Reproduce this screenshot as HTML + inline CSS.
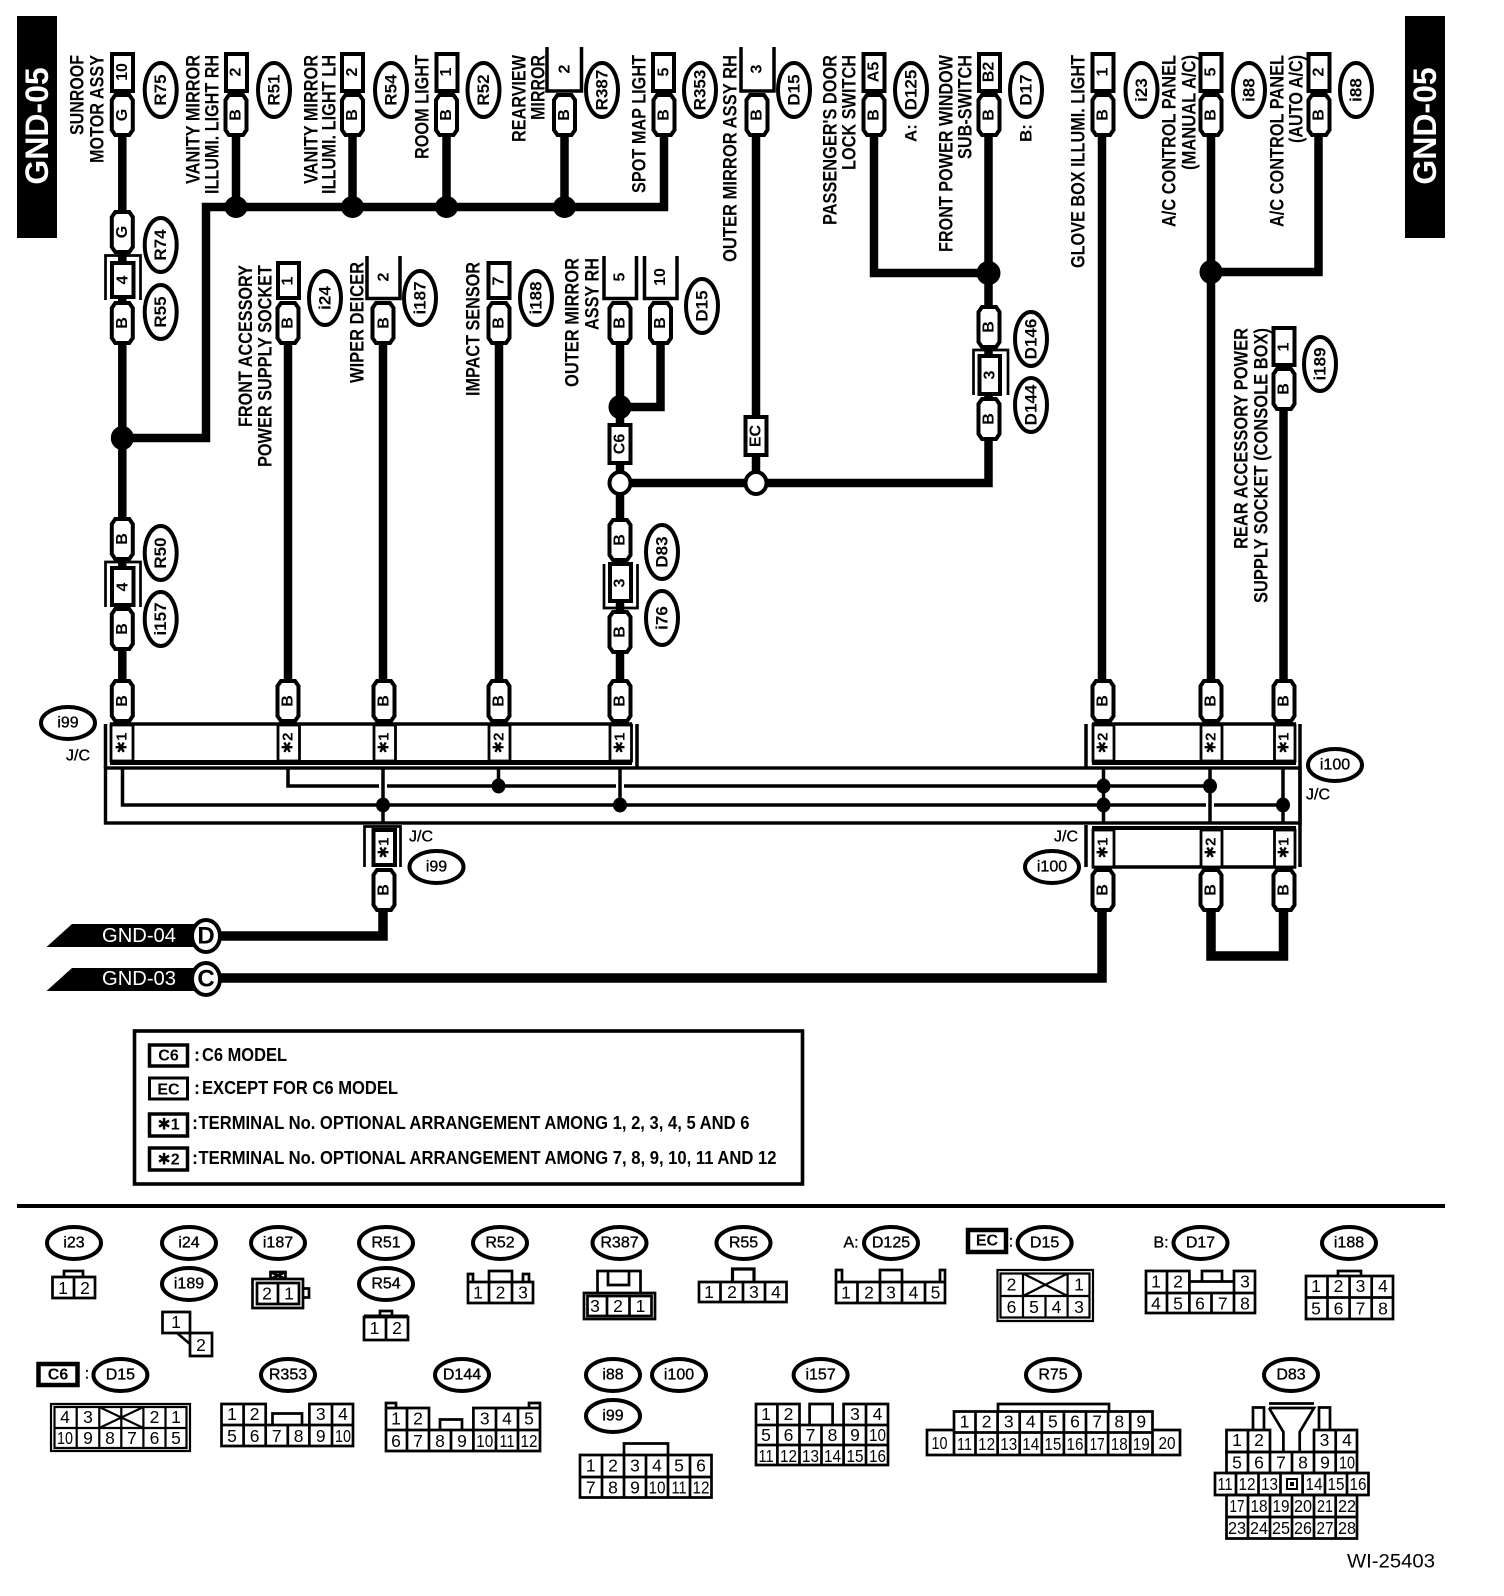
<!DOCTYPE html>
<html><head><meta charset="utf-8"><title>GND-05</title>
<style>
html,body{margin:0;padding:0;background:#fff}
svg{display:block}
text{font-family:"Liberation Sans","DejaVu Sans",sans-serif;fill:#000;dominant-baseline:central}
.w{fill:none;stroke:#000;stroke-width:8.5;stroke-linejoin:miter}
.l{fill:none;stroke:#000;stroke-width:3.5}
.m{fill:none;stroke:#000;stroke-width:2.7}
.s{fill:#fff;stroke:#000;stroke-width:4}
.c{fill:#fff;stroke:#000;stroke-width:2.8}
.j{fill:#000}
.a{font-size:17px;font-weight:700;text-anchor:end}
.b{font-size:16px;font-weight:700;text-anchor:middle}
.e{font-size:17px;font-weight:700;text-anchor:middle}
.h{font-size:16px;text-anchor:middle;stroke:#000;stroke-width:.35}
.n{font-size:17.5px;text-anchor:middle}
.k{font-size:16px;font-weight:700;text-anchor:middle}
.g{font-size:18px;font-weight:700}
.t{font-size:15px}
</style></head><body>
<svg width="1504" height="1596" viewBox="0 0 1504 1596" xmlns="http://www.w3.org/2000/svg">
<defs>
<path id="p" class="s" d="M-7,0H7L10.5,5V35L7,40H-7L-10.5,35V5Z"/>
</defs>
<rect width="1504" height="1596" fill="#fff"/>

<!-- side bars -->
<rect x="17" y="16" width="40" height="222" fill="#000"/>
<rect x="1405" y="16" width="40" height="222" fill="#000"/>
<text transform="translate(37,126) rotate(-90)" style="font-size:32px;font-weight:700;text-anchor:middle;fill:#fff">GND-05</text>
<text transform="translate(1425,126) rotate(-90)" style="font-size:32px;font-weight:700;text-anchor:middle;fill:#fff">GND-05</text>

<!-- wires -->
<path class="w" d="M122.3,130V700"/>
<path class="w" d="M122.3,438H206V207H664V130"/>
<path class="w" d="M236,130V207M352.5,130V207M446.5,130V207M564.5,130V207"/>
<path class="w" d="M756,130V483"/>
<path class="w" d="M874,130V273H988.5"/>
<path class="w" d="M988.5,130V483H620"/>
<path class="w" d="M1102,130V700"/>
<path class="w" d="M1211,130V700"/>
<path class="w" d="M1318.5,130V272H1211"/>
<path class="w" d="M1283.5,400V700"/>
<path class="w" d="M288,340V700M383,340V700M499,340V700"/>
<path class="w" d="M620,340V700"/>
<path class="w" d="M660.5,340V407H620"/>
<path class="w" style="stroke-width:9.5" d="M383,905V936H220"/>
<path class="w" style="stroke-width:9.5" d="M1102,905V978H220"/>
<path class="w" style="stroke-width:9.5" d="M1211,905V956H1283.5V905"/>

<!-- junctions -->
<ellipse class="j" cx="122.3" cy="438" rx="11.5" ry="12"/>
<ellipse class="j" cx="236" cy="207" rx="11.5" ry="11"/>
<ellipse class="j" cx="352.5" cy="207" rx="11.5" ry="11"/>
<ellipse class="j" cx="446.5" cy="207" rx="11.5" ry="11"/>
<ellipse class="j" cx="564.5" cy="207" rx="11.5" ry="11"/>
<ellipse class="j" cx="988.5" cy="273" rx="12" ry="12"/>
<ellipse class="j" cx="1211" cy="272" rx="11.5" ry="12"/>
<ellipse class="j" cx="620" cy="407" rx="11.5" ry="12"/>
<ellipse class="s" cx="620" cy="483" rx="10.5" ry="11"/>
<ellipse class="s" cx="756" cy="483" rx="10.5" ry="11"/>

<!-- top terminal boxes -->
<rect class="s" x="112" y="54" width="21" height="37"/><text class="b" transform="translate(122.3,72) rotate(-90)">10</text>
<rect class="s" x="226" y="54" width="21" height="37"/><text class="b" transform="translate(236,72) rotate(-90)">2</text>
<rect class="s" x="342" y="54" width="21" height="37"/><text class="b" transform="translate(352.5,72) rotate(-90)">2</text>
<rect class="s" x="436.5" y="54" width="21" height="37"/><text class="b" transform="translate(446.5,72) rotate(-90)">1</text>
<path class="l" d="M547,47V91H581.5V47"/><text class="b" transform="translate(565,69) rotate(-90)">2</text>
<rect class="s" x="653" y="54" width="21" height="37"/><text class="b" transform="translate(664,72) rotate(-90)">5</text>
<path class="l" d="M741,47V91H774V47"/><text class="b" transform="translate(757,69) rotate(-90)">3</text>
<rect class="s" x="863.5" y="54" width="21" height="37"/><text class="b" transform="translate(874,72) rotate(-90)">A5</text>
<rect class="s" x="979" y="54" width="21" height="37"/><text class="b" transform="translate(989,72) rotate(-90)">B2</text>
<rect class="s" x="1092.5" y="54" width="21" height="37"/><text class="b" transform="translate(1103,72) rotate(-90)">1</text>
<rect class="s" x="1200.5" y="54" width="21" height="37"/><text class="b" transform="translate(1211,72) rotate(-90)">5</text>
<rect class="s" x="1308.5" y="54" width="21" height="37"/><text class="b" transform="translate(1319,72) rotate(-90)">2</text>

<!-- top pills -->
<use href="#p" x="122.3" y="95"/><text class="b" transform="translate(122.3,115) rotate(-90)">G</text>
<use href="#p" x="236" y="95"/><text class="b" transform="translate(236,115) rotate(-90)">B</text>
<use href="#p" x="352.5" y="95"/><text class="b" transform="translate(352.5,115) rotate(-90)">B</text>
<use href="#p" x="446.5" y="95"/><text class="b" transform="translate(446.5,115) rotate(-90)">B</text>
<use href="#p" x="564.5" y="95"/><text class="b" transform="translate(564.5,115) rotate(-90)">B</text>
<use href="#p" x="664" y="95"/><text class="b" transform="translate(664,115) rotate(-90)">B</text>
<use href="#p" x="757" y="95"/><text class="b" transform="translate(757,115) rotate(-90)">B</text>
<use href="#p" x="874" y="95"/><text class="b" transform="translate(874,115) rotate(-90)">B</text>
<use href="#p" x="989" y="95"/><text class="b" transform="translate(989,115) rotate(-90)">B</text>
<use href="#p" x="1103" y="95"/><text class="b" transform="translate(1103,115) rotate(-90)">B</text>
<use href="#p" x="1211" y="95"/><text class="b" transform="translate(1211,115) rotate(-90)">B</text>
<use href="#p" x="1319" y="95"/><text class="b" transform="translate(1319,115) rotate(-90)">B</text>

<!-- top labels -->
<text class="a" transform="translate(77,55) rotate(-90) scale(1,1.12)" textLength="80" lengthAdjust="spacingAndGlyphs">SUNROOF</text>
<text class="a" transform="translate(97,55) rotate(-90) scale(1,1.12)" textLength="108" lengthAdjust="spacingAndGlyphs">MOTOR ASSY</text>
<text class="a" transform="translate(193,55) rotate(-90) scale(1,1.12)" textLength="129" lengthAdjust="spacingAndGlyphs">VANITY MIRROR</text>
<text class="a" transform="translate(212,55) rotate(-90) scale(1,1.12)" textLength="139" lengthAdjust="spacingAndGlyphs">ILLUMI. LIGHT RH</text>
<text class="a" transform="translate(311,55) rotate(-90) scale(1,1.12)" textLength="129" lengthAdjust="spacingAndGlyphs">VANITY MIRROR</text>
<text class="a" transform="translate(329,55) rotate(-90) scale(1,1.12)" textLength="139" lengthAdjust="spacingAndGlyphs">ILLUMI. LIGHT LH</text>
<text class="a" transform="translate(422,55) rotate(-90) scale(1,1.12)" textLength="104" lengthAdjust="spacingAndGlyphs">ROOM LIGHT</text>
<text class="a" transform="translate(519,55) rotate(-90) scale(1,1.12)" textLength="87" lengthAdjust="spacingAndGlyphs">REARVIEW</text>
<text class="a" transform="translate(538,55) rotate(-90) scale(1,1.12)" textLength="65" lengthAdjust="spacingAndGlyphs">MIRROR</text>
<text class="a" transform="translate(639,55) rotate(-90) scale(1,1.12)" textLength="138" lengthAdjust="spacingAndGlyphs">SPOT MAP LIGHT</text>
<text class="a" transform="translate(730,55) rotate(-90) scale(1,1.12)" textLength="207" lengthAdjust="spacingAndGlyphs">OUTER MIRROR ASSY RH</text>
<text class="a" transform="translate(830,55) rotate(-90) scale(1,1.12)" textLength="170" lengthAdjust="spacingAndGlyphs">PASSENGER'S DOOR</text>
<text class="a" transform="translate(849,55) rotate(-90) scale(1,1.12)" textLength="115" lengthAdjust="spacingAndGlyphs">LOCK SWITCH</text>
<text class="a" transform="translate(946,55) rotate(-90) scale(1,1.12)" textLength="197" lengthAdjust="spacingAndGlyphs">FRONT POWER WINDOW</text>
<text class="a" transform="translate(965,55) rotate(-90) scale(1,1.12)" textLength="104" lengthAdjust="spacingAndGlyphs">SUB-SWITCH</text>
<text class="a" transform="translate(1078,55) rotate(-90) scale(1,1.12)" textLength="213" lengthAdjust="spacingAndGlyphs">GLOVE BOX ILLUMI. LIGHT</text>
<text class="a" transform="translate(1169,55) rotate(-90) scale(1,1.12)" textLength="172" lengthAdjust="spacingAndGlyphs">A/C CONTROL PANEL</text>
<text class="a" transform="translate(1189,55) rotate(-90) scale(1,1.12)" textLength="115" lengthAdjust="spacingAndGlyphs">(MANUAL A/C)</text>
<text class="a" transform="translate(1277,55) rotate(-90) scale(1,1.12)" textLength="172" lengthAdjust="spacingAndGlyphs">A/C CONTROL PANEL</text>
<text class="a" transform="translate(1296,55) rotate(-90) scale(1,1.12)" textLength="88" lengthAdjust="spacingAndGlyphs">(AUTO A/C)</text>
<text class="a" transform="translate(911,133) rotate(-90)" style="text-anchor:middle">A:</text>
<text class="a" transform="translate(1026,133) rotate(-90)" style="text-anchor:middle">B:</text>

<!-- top ellipses -->
<ellipse class="s" cx="160.7" cy="90" rx="16" ry="27"/><text class="e" transform="translate(160.7,90) rotate(-90)">R75</text>
<ellipse class="s" cx="274" cy="90" rx="16" ry="27"/><text class="e" transform="translate(274,90) rotate(-90)">R51</text>
<ellipse class="s" cx="391" cy="90" rx="16" ry="27"/><text class="e" transform="translate(391,90) rotate(-90)">R54</text>
<ellipse class="s" cx="483.5" cy="90" rx="16" ry="27"/><text class="e" transform="translate(483.5,90) rotate(-90)">R52</text>
<ellipse class="s" cx="602" cy="90" rx="16" ry="27"/><text class="e" transform="translate(602,90) rotate(-90)">R387</text>
<ellipse class="s" cx="700" cy="90" rx="16" ry="27"/><text class="e" transform="translate(700,90) rotate(-90)">R353</text>
<ellipse class="s" cx="794" cy="90" rx="16" ry="27"/><text class="e" transform="translate(794,90) rotate(-90)">D15</text>
<ellipse class="s" cx="911" cy="90" rx="16" ry="27"/><text class="e" transform="translate(911,90) rotate(-90)">D125</text>
<ellipse class="s" cx="1026" cy="90" rx="16" ry="27"/><text class="e" transform="translate(1026,90) rotate(-90)">D17</text>
<ellipse class="s" cx="1141.5" cy="90" rx="16" ry="27"/><text class="e" transform="translate(1141.5,90) rotate(-90)">i23</text>
<ellipse class="s" cx="1249" cy="90" rx="16" ry="27"/><text class="e" transform="translate(1249,90) rotate(-90)">i88</text>
<ellipse class="s" cx="1356" cy="90" rx="16" ry="27"/><text class="e" transform="translate(1356,90) rotate(-90)">i88</text>

<!-- R74 / R55 connector -->
<use href="#p" x="122.3" y="212"/><text class="b" transform="translate(122.3,232) rotate(-90)">G</text>
<path class="m" d="M105.5,300V255.5H140.5V300"/>
<rect class="s" x="112" y="263" width="21.5" height="34"/><text class="b" transform="translate(122.8,280) rotate(-90)">4</text>
<use href="#p" x="122.3" y="303"/><text class="b" transform="translate(122.3,323) rotate(-90)">B</text>
<ellipse class="s" cx="160.7" cy="245" rx="16" ry="27"/><text class="e" transform="translate(160.7,245) rotate(-90)">R74</text>
<ellipse class="s" cx="160.7" cy="312" rx="16" ry="27"/><text class="e" transform="translate(160.7,312) rotate(-90)">R55</text>

<!-- i24 -->
<rect class="s" x="278" y="263" width="21" height="35"/><text class="b" transform="translate(288,281) rotate(-90)">1</text>
<use href="#p" x="288" y="303"/><text class="b" transform="translate(288,323) rotate(-90)">B</text>
<ellipse class="s" cx="325" cy="298" rx="16" ry="27"/><text class="e" transform="translate(325,298) rotate(-90)">i24</text>
<text class="a" transform="translate(245.5,265) rotate(-90) scale(1,1.12)" textLength="162" lengthAdjust="spacingAndGlyphs">FRONT ACCESSORY</text>
<text class="a" transform="translate(265,265) rotate(-90) scale(1,1.12)" textLength="202" lengthAdjust="spacingAndGlyphs">POWER SUPPLY SOCKET</text>

<!-- i187 -->
<path class="l" d="M367,256V298.5H400V256"/><text class="b" transform="translate(384,277) rotate(-90)">2</text>
<use href="#p" x="383" y="303"/><text class="b" transform="translate(384,323) rotate(-90)">B</text>
<ellipse class="s" cx="420" cy="298" rx="16" ry="27"/><text class="e" transform="translate(420,298) rotate(-90)">i187</text>
<text class="a" transform="translate(357,262) rotate(-90) scale(1,1.12)" textLength="121" lengthAdjust="spacingAndGlyphs">WIPER DEICER</text>

<!-- i188 -->
<rect class="s" x="488.5" y="263" width="21" height="35"/><text class="b" transform="translate(499,281) rotate(-90)">7</text>
<use href="#p" x="499" y="303"/><text class="b" transform="translate(499,323) rotate(-90)">B</text>
<ellipse class="s" cx="536" cy="298" rx="16" ry="27"/><text class="e" transform="translate(536,298) rotate(-90)">i188</text>
<text class="a" transform="translate(473,262) rotate(-90) scale(1,1.12)" textLength="134" lengthAdjust="spacingAndGlyphs">IMPACT SENSOR</text>

<!-- D15 pair -->
<path class="l" d="M604,256V298.5H636.5V256M644.5,256V298.5H677V256"/>
<text class="b" transform="translate(620,277) rotate(-90)">5</text>
<text class="b" transform="translate(660.5,277) rotate(-90)">10</text>
<use href="#p" x="620" y="303"/><text class="b" transform="translate(620,323) rotate(-90)">B</text>
<use href="#p" x="660.5" y="303"/><text class="b" transform="translate(660.5,323) rotate(-90)">B</text>
<ellipse class="s" cx="702" cy="306" rx="16" ry="27"/><text class="e" transform="translate(702,306) rotate(-90)">D15</text>
<text class="a" transform="translate(572,258) rotate(-90) scale(1,1.12)" textLength="129" lengthAdjust="spacingAndGlyphs">OUTER MIRROR</text>
<text class="a" transform="translate(592,258) rotate(-90) scale(1,1.12)" textLength="72" lengthAdjust="spacingAndGlyphs">ASSY RH</text>

<!-- C6 / EC inline -->
<rect class="s" x="609.5" y="425" width="21" height="38"/><text class="b" transform="translate(620,444) rotate(-90)">C6</text>
<rect class="s" x="745.5" y="417" width="21" height="38"/><text class="b" transform="translate(756,436) rotate(-90)">EC</text>

<!-- D146 / D144 -->
<use href="#p" x="989" y="307"/><text class="b" transform="translate(989,327) rotate(-90)">B</text>
<path class="m" d="M973.5,395V350H1008V395"/>
<rect class="s" x="979.5" y="356" width="20.5" height="38"/><text class="b" transform="translate(990,375) rotate(-90)">3</text>
<use href="#p" x="989" y="399"/><text class="b" transform="translate(989,419) rotate(-90)">B</text>
<ellipse class="s" cx="1031" cy="339" rx="16" ry="27"/><text class="e" transform="translate(1031,339) rotate(-90)">D146</text>
<ellipse class="s" cx="1031" cy="405" rx="16" ry="27"/><text class="e" transform="translate(1031,405) rotate(-90)">D144</text>

<!-- i189 -->
<rect class="s" x="1273.5" y="328" width="21" height="37"/><text class="b" transform="translate(1284,347) rotate(-90)">1</text>
<use href="#p" x="1284" y="369"/><text class="b" transform="translate(1284,389) rotate(-90)">B</text>
<ellipse class="s" cx="1320" cy="364" rx="16" ry="27"/><text class="e" transform="translate(1320,364) rotate(-90)">i189</text>
<text class="a" transform="translate(1241,328) rotate(-90) scale(1,1.12)" textLength="221" lengthAdjust="spacingAndGlyphs">REAR ACCESSORY POWER</text>
<text class="a" transform="translate(1261,328) rotate(-90) scale(1,1.12)" textLength="275" lengthAdjust="spacingAndGlyphs">SUPPLY SOCKET (CONSOLE BOX)</text>

<!-- R50 / i157 -->
<use href="#p" x="122.3" y="519"/><text class="b" transform="translate(122.3,539) rotate(-90)">B</text>
<path class="m" d="M105.5,607V562H140.5V607"/>
<rect class="s" x="112" y="568" width="21.5" height="37"/><text class="b" transform="translate(123,587) rotate(-90)">4</text>
<use href="#p" x="122.3" y="609"/><text class="b" transform="translate(122.3,629) rotate(-90)">B</text>
<ellipse class="s" cx="160.7" cy="553" rx="16" ry="27"/><text class="e" transform="translate(160.7,553) rotate(-90)">R50</text>
<ellipse class="s" cx="160.7" cy="619" rx="16" ry="27"/><text class="e" transform="translate(160.7,619) rotate(-90)">i157</text>

<!-- D83 / i76 -->
<use href="#p" x="620" y="520"/><text class="b" transform="translate(620,540) rotate(-90)">B</text>
<path class="m" d="M604,564V608H637.5V564"/>
<rect class="s" x="610" y="564" width="21" height="37"/><text class="b" transform="translate(620,583) rotate(-90)">3</text>
<use href="#p" x="620" y="612"/><text class="b" transform="translate(620,632) rotate(-90)">B</text>
<ellipse class="s" cx="662" cy="552" rx="16" ry="27"/><text class="e" transform="translate(662,552) rotate(-90)">D83</text>
<ellipse class="s" cx="662" cy="618" rx="16" ry="27"/><text class="e" transform="translate(662,618) rotate(-90)">i76</text>

<!-- J/C frame -->
<rect class="l" x="105.5" y="768" width="1194.5" height="55" style="stroke-width:3.4"/>
<path class="l" d="M105.5,724V768M637,724V768M1086,724V768M1300,724V867M1086,825V867"/>
<path class="l" d="M110,724H632M1092,724H1296"/>
<path style="fill:none;stroke:#000;stroke-width:5" d="M110,762.5H632M1092,762.5H1296"/>
<path style="fill:none;stroke:#000;stroke-width:4" d="M1092,828H1296"/>
<path class="l" d="M1092,867H1296"/>

<!-- J/C upper terminals -->
<rect class="c" x="111" y="725" width="22" height="36"/><text class="b t" transform="translate(122,743) rotate(-90)">✱1</text>
<rect class="c" x="278" y="725" width="21.5" height="36"/><text class="b t" transform="translate(288,743) rotate(-90)">✱2</text>
<rect class="c" x="374" y="725" width="21.5" height="36"/><text class="b t" transform="translate(384,743) rotate(-90)">✱1</text>
<rect class="c" x="489" y="725" width="21" height="36"/><text class="b t" transform="translate(499,743) rotate(-90)">✱2</text>
<rect class="c" x="610" y="725" width="21.5" height="36"/><text class="b t" transform="translate(620,743) rotate(-90)">✱1</text>
<rect class="c" x="1093" y="725" width="21" height="36"/><text class="b t" transform="translate(1103,743) rotate(-90)">✱2</text>
<rect class="c" x="1201" y="725" width="21" height="36"/><text class="b t" transform="translate(1211,743) rotate(-90)">✱2</text>
<rect class="c" x="1274.5" y="725" width="20.5" height="36"/><text class="b t" transform="translate(1284,743) rotate(-90)">✱1</text>

<!-- J/C lower terminals -->
<rect class="c" x="1093" y="830" width="21" height="37"/><text class="b t" transform="translate(1103,848) rotate(-90)">✱1</text>
<rect class="c" x="1201" y="830" width="21" height="37"/><text class="b t" transform="translate(1211,848) rotate(-90)">✱2</text>
<rect class="c" x="1274.5" y="830" width="20.5" height="37"/><text class="b t" transform="translate(1284,848) rotate(-90)">✱1</text>
<path class="m" d="M364.5,867V826.5H400.5V867"/>
<rect class="s" x="373.5" y="830" width="21.5" height="35"/><text class="b t" transform="translate(384,848) rotate(-90)">✱1</text>

<!-- pills at J/C -->
<use href="#p" x="122.3" y="681"/><text class="b" transform="translate(122.3,701) rotate(-90)">B</text>
<use href="#p" x="288" y="681"/><text class="b" transform="translate(288,701) rotate(-90)">B</text>
<use href="#p" x="384" y="681"/><text class="b" transform="translate(384,701) rotate(-90)">B</text>
<use href="#p" x="499" y="681"/><text class="b" transform="translate(499,701) rotate(-90)">B</text>
<use href="#p" x="620" y="681"/><text class="b" transform="translate(620,701) rotate(-90)">B</text>
<use href="#p" x="1103" y="681"/><text class="b" transform="translate(1103,701) rotate(-90)">B</text>
<use href="#p" x="1211" y="681"/><text class="b" transform="translate(1211,701) rotate(-90)">B</text>
<use href="#p" x="1284" y="681"/><text class="b" transform="translate(1284,701) rotate(-90)">B</text>
<use href="#p" x="384" y="870"/><text class="b" transform="translate(384,890) rotate(-90)">B</text>
<use href="#p" x="1103" y="870"/><text class="b" transform="translate(1103,890) rotate(-90)">B</text>
<use href="#p" x="1211" y="870"/><text class="b" transform="translate(1211,890) rotate(-90)">B</text>
<use href="#p" x="1284" y="870"/><text class="b" transform="translate(1284,890) rotate(-90)">B</text>

<!-- inner bus lines -->
<path class="l" d="M122.5,768V805H1206M1214,805H1283M288,768V786H379M387,786H616M624,786H1210"/>
<path class="l" d="M383,768V823M498.5,768V786M620,768V805M1103.5,768V823M1210,768V823M1283,768V823"/>
<ellipse class="j" cx="383" cy="805" rx="7" ry="7.5"/>
<ellipse class="j" cx="498.5" cy="786" rx="7" ry="7.5"/>
<ellipse class="j" cx="620" cy="805" rx="7" ry="7.5"/>
<ellipse class="j" cx="1103.5" cy="786" rx="7" ry="7.5"/>
<ellipse class="j" cx="1103.5" cy="805" rx="7" ry="7.5"/>
<ellipse class="j" cx="1210" cy="786" rx="7" ry="7.5"/>
<ellipse class="j" cx="1283" cy="805" rx="7" ry="7.5"/>

<!-- J/C ellipses -->
<ellipse class="s" cx="68" cy="723" rx="27" ry="16"/><text class="h" x="68" y="723">i99</text>
<text class="h" x="78" y="756">J/C</text>
<ellipse class="s" cx="436.5" cy="867" rx="27" ry="16"/><text class="h" x="436.5" y="867">i99</text>
<text class="h" x="421" y="837">J/C</text>
<ellipse class="s" cx="1335" cy="765" rx="27" ry="16"/><text class="h" x="1335" y="765">i100</text>
<text class="h" x="1318" y="795">J/C</text>
<ellipse class="s" cx="1052" cy="867" rx="27" ry="16"/><text class="h" x="1052" y="867">i100</text>
<text class="h" x="1066" y="837">J/C</text>

<!-- ground flags -->
<polygon fill="#000" points="46.5,947 72,924 195,924 195,947"/>
<ellipse class="s" cx="206" cy="936" rx="14" ry="16" style="stroke-width:4"/>
<text style="font-size:20px;fill:#fff;text-anchor:start" x="102" y="936" textLength="74" lengthAdjust="spacingAndGlyphs">GND-04</text>
<text style="font-size:24px;font-weight:700;text-anchor:middle" x="206" y="936">D</text>
<polygon fill="#000" points="46.5,991 72,968 195,968 195,991"/>
<ellipse class="s" cx="206" cy="979" rx="14" ry="16" style="stroke-width:4"/>
<text style="font-size:20px;fill:#fff;text-anchor:start" x="102" y="979" textLength="74" lengthAdjust="spacingAndGlyphs">GND-03</text>
<text style="font-size:24px;font-weight:700;text-anchor:middle" x="206" y="979">C</text>

<!-- legend -->
<rect x="134.5" y="1031" width="668" height="153" fill="#fff" stroke="#000" stroke-width="3.6"/>
<rect x="149.5" y="1045" width="38" height="21" fill="#fff" stroke="#000" stroke-width="3.5"/><text class="k" x="168.5" y="1056">C6</text>
<rect x="149.5" y="1078" width="38" height="21" fill="#fff" stroke="#000" stroke-width="3"/><text class="k" x="168.5" y="1090">EC</text>
<rect x="149.5" y="1114" width="38" height="22" fill="#fff" stroke="#000" stroke-width="3.5"/><text class="k" x="168.5" y="1125">✱1</text>
<rect x="149.5" y="1148" width="38" height="22" fill="#fff" stroke="#000" stroke-width="3.5"/><text class="k" x="168.5" y="1160">✱2</text>
<text class="g" x="194" y="1055">:</text><text class="g" x="202" y="1055" textLength="85" lengthAdjust="spacingAndGlyphs">C6 MODEL</text>
<text class="g" x="194" y="1088">:</text><text class="g" x="202" y="1088" textLength="196" lengthAdjust="spacingAndGlyphs">EXCEPT FOR C6 MODEL</text>
<text class="g" x="192" y="1123">:</text><text class="g" x="198.5" y="1123" textLength="551" lengthAdjust="spacingAndGlyphs">TERMINAL No. OPTIONAL ARRANGEMENT AMONG 1, 2, 3, 4, 5 AND 6</text>
<text class="g" x="192" y="1158">:</text><text class="g" x="198.5" y="1158" textLength="578" lengthAdjust="spacingAndGlyphs">TERMINAL No. OPTIONAL ARRANGEMENT AMONG 7, 8, 9, 10, 11 AND 12</text>

<rect x="17" y="1204" width="1428" height="4" fill="#000"/>

<!-- bottom row 1 ellipses -->
<ellipse class="s" cx="74" cy="1243" rx="27" ry="16"/><text class="h" x="74" y="1243">i23</text>
<ellipse class="s" cx="189" cy="1243" rx="27" ry="16"/><text class="h" x="189" y="1243">i24</text>
<ellipse class="s" cx="189" cy="1284" rx="27" ry="16"/><text class="h" x="189" y="1284">i189</text>
<ellipse class="s" cx="278" cy="1243" rx="27" ry="16"/><text class="h" x="278" y="1243">i187</text>
<ellipse class="s" cx="386" cy="1243" rx="27" ry="16"/><text class="h" x="386" y="1243">R51</text>
<ellipse class="s" cx="386" cy="1284" rx="27" ry="16"/><text class="h" x="386" y="1284">R54</text>
<ellipse class="s" cx="500" cy="1243" rx="27" ry="16"/><text class="h" x="500" y="1243">R52</text>
<ellipse class="s" cx="619.5" cy="1243" rx="27" ry="16"/><text class="h" x="619.5" y="1243">R387</text>
<ellipse class="s" cx="743.5" cy="1243" rx="27" ry="16"/><text class="h" x="743.5" y="1243">R55</text>
<text class="h" x="851" y="1243">A:</text>
<ellipse class="s" cx="891" cy="1243" rx="27" ry="16"/><text class="h" x="891" y="1243">D125</text>
<rect x="968" y="1230" width="38" height="22" fill="#fff" stroke="#000" stroke-width="4.5"/><text class="k" x="987" y="1241">EC</text>
<text class="h" x="1011" y="1242">:</text>
<ellipse class="s" cx="1044.6" cy="1243" rx="27" ry="16"/><text class="h" x="1044.6" y="1243">D15</text>
<text class="h" x="1161" y="1243">B:</text>
<ellipse class="s" cx="1200.5" cy="1243" rx="27" ry="16"/><text class="h" x="1200.5" y="1243">D17</text>
<ellipse class="s" cx="1349" cy="1243" rx="27" ry="16"/><text class="h" x="1349" y="1243">i188</text>

<!-- bottom row 2 ellipses -->
<rect x="38.5" y="1364" width="39" height="21" fill="#fff" stroke="#000" stroke-width="4.5"/><text class="k" x="58" y="1375">C6</text>
<text class="h" x="87" y="1374">:</text>
<ellipse class="s" cx="120.4" cy="1375" rx="27" ry="16"/><text class="h" x="120.4" y="1375">D15</text>
<ellipse class="s" cx="288" cy="1375" rx="27" ry="16"/><text class="h" x="288" y="1375">R353</text>
<ellipse class="s" cx="462" cy="1375" rx="27" ry="16"/><text class="h" x="462" y="1375">D144</text>
<ellipse class="s" cx="613" cy="1375" rx="27" ry="16"/><text class="h" x="613" y="1375">i88</text>
<ellipse class="s" cx="679" cy="1375" rx="27" ry="16"/><text class="h" x="679" y="1375">i100</text>
<ellipse class="s" cx="613" cy="1416" rx="27" ry="16"/><text class="h" x="613" y="1416">i99</text>
<ellipse class="s" cx="820.6" cy="1375" rx="27" ry="16"/><text class="h" x="820.6" y="1375">i157</text>
<ellipse class="s" cx="1053" cy="1375" rx="27" ry="16"/><text class="h" x="1053" y="1375">R75</text>
<ellipse class="s" cx="1291" cy="1375" rx="27" ry="16"/><text class="h" x="1291" y="1375">D83</text>

<!-- i23 connector -->
<path class="m" d="M52.5,1277H95V1298H52.5ZM74,1277V1298M64,1277V1271H83V1277"/>
<text class="n" x="63 85" y="1288">12</text>
<!-- i189 connector -->
<path class="m" d="M162.5,1312H190V1333H162.5ZM190,1333H212V1356H190ZM177,1333L190,1344"/>
<text class="n" x="176 201" y="1322 1345">12</text>
<!-- i187 connector -->
<path class="m" d="M252.5,1279H303V1308H252.5ZM257,1283H299V1304H257ZM278,1283V1304M270.5,1279V1272H285.5V1279M270.5,1272L285.5,1279M285.5,1272L270.5,1279M303,1288.5H309V1297.5H303"/>
<text class="n" x="267 289" y="1293.5">21</text>
<!-- R54 connector -->
<path class="m" d="M364,1317H408V1340H364ZM386,1317V1340M380,1316V1311H392V1316"/><path d="M364,1316H408" stroke="#000" stroke-width="3"/>
<text class="n" x="374.5 397" y="1328">12</text>
<!-- R52 connector -->
<path class="m" d="M468,1282H533V1303H468ZM489,1282V1303M512,1282V1303M489,1282V1271H512V1282M468,1282V1274H473V1282M523,1282V1274H529V1282"/>
<text class="n" x="478 500.5 523" y="1292.5">123</text>
<!-- R387 connector -->
<path class="m" d="M584,1293H655V1319H584ZM587.5,1296H651.5V1316H587.5ZM607,1296V1316M629.5,1296V1316M597.5,1293V1271H640.5V1293M608,1271V1285H629V1271"/>
<text class="n" x="595 618 640.5" y="1306">321</text>
<!-- R55 connector -->
<path class="m" d="M699,1282H786.5V1302H699ZM720.5,1282V1302M743,1282V1302M765,1282V1302"/><path class="m" style="stroke-width:3.2" d="M732.5,1282V1269H754V1282"/>
<text class="n" x="709 732 754 776" y="1292">1234</text>
<!-- D125 connector -->
<path class="m" d="M836,1282H945V1303H836ZM857.5,1282V1303M880,1282V1303M902,1282V1303M925,1282V1303M880,1282V1270H902V1282M836,1282V1270H842V1282M940,1282V1270H945V1282"/>
<text class="n" x="846 869 891 913.5 935.5" y="1292.5">12345</text>
<!-- D15 EC connector -->
<path class="m" style="stroke-width:2.2" d="M997.5,1270H1093V1321H997.5ZM1000.5,1273.5H1089.5V1317.5H1000.5ZM1000.5,1296H1089.5M1023,1273.5V1317.5M1045.5,1296V1317.5M1067.6,1273.5V1317.5M1023,1273.5L1067.6,1296M1067.6,1273.5L1023,1296"/>
<text class="n" x="1011.5 1079" y="1284.5">21</text>
<text class="n" x="1011.5 1034 1056.5 1079" y="1307">6543</text>
<!-- D17 connector -->
<path class="m" d="M1146,1271H1189.4V1281.5H1234V1271H1255V1313H1146ZM1146,1293H1255M1167,1271V1313M1189.4,1271V1313M1211.5,1293V1313M1234,1271V1313M1202,1281.5V1271H1222V1281.5"/>
<text class="n" x="1156 1178 1245" y="1281.5">123</text>
<text class="n" x="1156 1178 1200 1222.7 1245" y="1303.5">45678</text>
<!-- i188 connector -->
<path class="m" d="M1306,1276H1393V1319H1306ZM1306,1297.5H1393M1327.5,1276V1319M1349.6,1276V1319M1371.7,1276V1319M1338,1276V1271H1361V1276"/>
<text class="n" x="1316 1338.5 1360.5 1383" y="1286">1234</text>
<text class="n" x="1316 1338.5 1360.5 1383" y="1308.5">5678</text>

<!-- D15 C6 connector -->
<path class="m" style="stroke-width:2.2" d="M51,1404H190V1451H51ZM54.5,1407H186.5V1448H54.5ZM54.5,1428H186.5M76.7,1407V1448M99.3,1407V1448M121.3,1407V1448M143.4,1407V1448M165.5,1407V1448M99.3,1407L143.4,1428M143.4,1407L99.3,1428"/>
<text class="n" x="65 88 154.5 176" y="1417">4321</text>
<text class="n" x="65" y="1438" textLength="16" lengthAdjust="spacingAndGlyphs">10</text>
<text class="n" x="88 110 132 154.5 176" y="1438">98765</text>
<!-- R353 -->
<path class="m" d="M221.5,1404H265.7V1425H309.4V1404H353V1446H221.5ZM221.5,1425H353M243.6,1404V1446M265.7,1425V1446M287.8,1425V1446M309.4,1425V1446M332,1404V1446M272.5,1425V1413.5H302V1425"/>
<text class="n" x="232 254.6 320.7 343" y="1414">1234</text>
<text class="n" x="232 254.6 276.7 298.6 320.7" y="1436">56789</text>
<text class="n" x="343" y="1436" textLength="16" lengthAdjust="spacingAndGlyphs">10</text>
<!-- D144 -->
<path class="m" d="M386,1408H429V1430H473.4V1408H540V1451H386ZM386,1430H540M407,1408V1451M429,1430V1451M451,1430V1451M473.4,1430V1451M496,1408V1451M518,1408V1451M440,1430V1419.5H462V1430M386,1408V1403H396V1408M529,1408V1403H540V1408"/>
<text class="n" x="396 418 484.7 507 529" y="1418.5">12345</text>
<text class="n" x="396 418 440 462" y="1441">6789</text>
<text class="n" x="484.7" y="1441" textLength="17" lengthAdjust="spacingAndGlyphs">10</text>
<text class="n" x="507" y="1441" textLength="15" lengthAdjust="spacingAndGlyphs">11</text>
<text class="n" x="529" y="1441" textLength="17" lengthAdjust="spacingAndGlyphs">12</text>
<!-- i88 -->
<path class="m" d="M580,1455H711.5V1497.5H580ZM580,1477H711.5M602,1455V1497.5M624,1455V1497.5M646,1455V1497.5M668,1455V1497.5M690,1455V1497.5M624,1455V1443.5H668V1455"/>
<text class="n" x="590.7 613 635 657 679 701" y="1465.5">123456</text>
<text class="n" x="590.7 613 635" y="1487.5">789</text>
<text class="n" x="657" y="1487.5" textLength="17" lengthAdjust="spacingAndGlyphs">10</text>
<text class="n" x="679" y="1487.5" textLength="15" lengthAdjust="spacingAndGlyphs">11</text>
<text class="n" x="701" y="1487.5" textLength="17" lengthAdjust="spacingAndGlyphs">12</text>
<!-- i157 -->
<path class="m" d="M756,1404H799.5V1425H843.6V1404H888V1465H756ZM756,1425H888M756,1445H888M777.4,1404V1465M799.5,1425V1465M821.5,1425V1465M843.6,1425V1465M866,1404V1465M809.6,1425V1404H832.6V1425"/>
<text class="n" x="766 788.5 855 877.5" y="1414">1234</text>
<text class="n" x="766 788.5 810.5 832.5 855" y="1435">56789</text>
<text class="n" x="877.5" y="1435" textLength="17" lengthAdjust="spacingAndGlyphs">10</text>
<text class="n" x="766" y="1456" textLength="15" lengthAdjust="spacingAndGlyphs">11</text>
<text class="n" x="788.5" y="1456" textLength="17" lengthAdjust="spacingAndGlyphs">12</text>
<text class="n" x="810.5" y="1456" textLength="17" lengthAdjust="spacingAndGlyphs">13</text>
<text class="n" x="832.5" y="1456" textLength="17" lengthAdjust="spacingAndGlyphs">14</text>
<text class="n" x="855" y="1456" textLength="17" lengthAdjust="spacingAndGlyphs">15</text>
<text class="n" x="877.5" y="1456" textLength="17" lengthAdjust="spacingAndGlyphs">16</text>
<!-- R75 -->
<path class="m" d="M998,1411V1404H1109V1411"/>
<path class="m" d="M954,1430V1411.5H1152.5V1430H1180V1455H927V1430ZM954,1432.5H1152.5M954,1430V1455M1152.5,1430V1455M975.5,1411.5V1455M997.6,1411.5V1455M1019.7,1411.5V1455M1041.8,1411.5V1455M1063.9,1411.5V1455M1086,1411.5V1455M1108.1,1411.5V1455M1130.2,1411.5V1455"/>
<text class="n" x="964.5 986.6 1008.7 1030.8 1052.9 1075 1097.1 1119.2 1141.3" y="1421.5">123456789</text>
<text class="n" x="939.5" y="1443" textLength="16" lengthAdjust="spacingAndGlyphs">10</text>
<text class="n" x="964.5" y="1444" textLength="15" lengthAdjust="spacingAndGlyphs">11</text>
<text class="n" x="986.6" y="1444" textLength="17" lengthAdjust="spacingAndGlyphs">12</text>
<text class="n" x="1008.7" y="1444" textLength="17" lengthAdjust="spacingAndGlyphs">13</text>
<text class="n" x="1030.8" y="1444" textLength="17" lengthAdjust="spacingAndGlyphs">14</text>
<text class="n" x="1052.9" y="1444" textLength="17" lengthAdjust="spacingAndGlyphs">15</text>
<text class="n" x="1075" y="1444" textLength="17" lengthAdjust="spacingAndGlyphs">16</text>
<text class="n" x="1097.1" y="1444" textLength="15" lengthAdjust="spacingAndGlyphs">17</text>
<text class="n" x="1119.2" y="1444" textLength="17" lengthAdjust="spacingAndGlyphs">18</text>
<text class="n" x="1141.3" y="1444" textLength="17" lengthAdjust="spacingAndGlyphs">19</text>
<text class="n" x="1167" y="1443" textLength="17" lengthAdjust="spacingAndGlyphs">20</text>
<!-- D83 -->
<path class="m" d="M1253,1429V1407.5H1264V1429M1319,1429V1407.5H1330V1429M1269,1403.5H1314M1269,1408H1314L1299.7,1432V1452M1269,1408L1283.4,1432V1452"/>
<path class="m" d="M1226.5,1430H1270V1452H1226.5ZM1314,1430H1357V1452H1314ZM1248,1430V1452M1335.7,1430V1452"/>
<path class="m" d="M1226.5,1452H1357V1473H1226.5ZM1248,1452V1473M1270,1452V1473M1292,1452V1473M1314,1452V1473M1335.7,1452V1473"/>
<path class="m" d="M1215,1473H1368.5V1495H1215ZM1236,1473V1495M1258.5,1473V1495M1280.5,1473V1495M1302.6,1473V1495M1325,1473V1495M1347,1473V1495"/>
<path class="m" d="M1226.5,1495H1357V1538.5H1226.5ZM1226.5,1517H1357M1248,1495V1538.5M1270,1495V1538.5M1292,1495V1538.5M1314,1495V1538.5M1335.7,1495V1538.5"/>
<rect x="1287" y="1479" width="10" height="10" fill="none" stroke="#000" stroke-width="2"/><rect x="1290" y="1482" width="4" height="4" fill="#000"/>
<text class="n" x="1237 1259 1324.5 1347" y="1440">1234</text>
<text class="n" x="1237 1259 1281 1303 1325" y="1462.5">56789</text>
<text class="n" x="1347" y="1462.5" textLength="16" lengthAdjust="spacingAndGlyphs">10</text>
<text class="n" x="1225" y="1484" textLength="15" lengthAdjust="spacingAndGlyphs">11</text>
<text class="n" x="1247" y="1484" textLength="17" lengthAdjust="spacingAndGlyphs">12</text>
<text class="n" x="1269.5" y="1484" textLength="17" lengthAdjust="spacingAndGlyphs">13</text>
<text class="n" x="1314" y="1484" textLength="17" lengthAdjust="spacingAndGlyphs">14</text>
<text class="n" x="1336" y="1484" textLength="17" lengthAdjust="spacingAndGlyphs">15</text>
<text class="n" x="1358" y="1484" textLength="17" lengthAdjust="spacingAndGlyphs">16</text>
<text class="n" x="1237" y="1506" textLength="15" lengthAdjust="spacingAndGlyphs">17</text>
<text class="n" x="1259" y="1506" textLength="17" lengthAdjust="spacingAndGlyphs">18</text>
<text class="n" x="1281" y="1506" textLength="17" lengthAdjust="spacingAndGlyphs">19</text>
<text class="n" x="1303" y="1506" textLength="18" lengthAdjust="spacingAndGlyphs">20</text>
<text class="n" x="1325" y="1506" textLength="16" lengthAdjust="spacingAndGlyphs">21</text>
<text class="n" x="1347" y="1506" textLength="18" lengthAdjust="spacingAndGlyphs">22</text>
<text class="n" x="1237" y="1528" textLength="18" lengthAdjust="spacingAndGlyphs">23</text>
<text class="n" x="1259" y="1528" textLength="18" lengthAdjust="spacingAndGlyphs">24</text>
<text class="n" x="1281" y="1528" textLength="18" lengthAdjust="spacingAndGlyphs">25</text>
<text class="n" x="1303" y="1528" textLength="18" lengthAdjust="spacingAndGlyphs">26</text>
<text class="n" x="1325" y="1528" textLength="17" lengthAdjust="spacingAndGlyphs">27</text>
<text class="n" x="1347" y="1528" textLength="18" lengthAdjust="spacingAndGlyphs">28</text>

<text x="1347" y="1562" style="font-size:19px" textLength="88" lengthAdjust="spacingAndGlyphs">WI-25403</text>
</svg>
</body></html>
